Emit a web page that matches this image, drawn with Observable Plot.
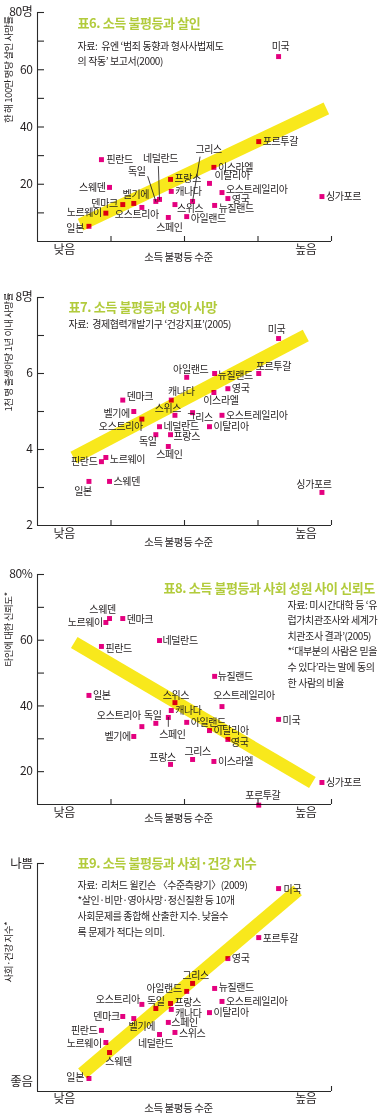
<!DOCTYPE html>
<html>
<head>
<meta charset="utf-8">
<script src="https://cdn.jsdelivr.net/npm/d3@7"></script>
<script src="https://cdn.jsdelivr.net/npm/@observablehq/plot@0.6"></script>
<style>
  body { margin: 0; background: #fff; }
  #chart { position: relative; width: 392px; height: 1118px; overflow: hidden; background: #fff; }
  #chart > div { position: absolute; left: 0; }
  .pnl text { letter-spacing: -0.4px; }
</style>
</head>
<body>
<div id="chart"></div>
<script>
// ---------- DATA ----------
const countries = ["일본","노르웨이","핀란드","스웨덴","덴마크","벨기에","오스트리아","독일","네덜란드","스페인","프랑스","캐나다","스위스","아일랜드","그리스","이탈리아","이스라엘","뉴질랜드","오스트레일리아","영국","포르투갈","미국","싱가포르"];
// relative income-inequality level (0 = 낮음 … 4 = 높음)
const inequality = [0.70,0.93,0.87,0.98,1.16,1.31,1.42,1.61,1.66,1.78,1.81,1.82,1.87,2.03,2.11,2.34,2.40,2.41,2.51,2.59,3.01,3.28,3.87];
// 표6: homicides per million per year
const homicideRate = [5.3,9.9,28.6,18.9,12.9,13.3,11.9,14.0,14.7,8.4,21.7,17.5,12.9,8.7,14.0,20.3,25.9,12.6,17.1,15.0,34.9,64.6,15.7];
// 표7: infant deaths within 1 year per 1,000 births
const infantMortality = [3.16,3.79,3.68,3.16,5.3,5.0,4.8,4.39,4.6,4.08,4.39,5.3,4.9,5.9,4.97,4.6,5.5,6.0,4.9,5.6,6.0,6.92,2.87];
// 표8: trust in others (%)
const trust = [43.2,65.4,58.1,66.6,66.6,30.7,33.7,34.7,59.9,36.5,22.2,38.6,41.0,35.0,23.7,32.5,23.1,49.0,39.8,29.8,9.8,35.9,16.7];
// 표9: health & social problems index (relative, 0 = 좋음, 100 = 나쁨)
const socialIndex = [5.7,21.5,26.8,17.1,32.9,32.0,38.2,36.4,25.0,30.3,38.6,36.0,25.9,43.9,47.4,34.6,null,45.2,39.5,58.3,67.5,89.0,null];

// trend bands (endpoints)
const trend6X = [0.585, 3.93], trend6Y = [5.9, 46.5];
const trend7X = [0.49, 3.65],  trend7Y = [3.79, 7.0];
const trend8X = [0.50, 3.74],  trend8Y = [59.3, 16.7];
const trend9X = [0.61, 3.54],  trend9Y = [7.9, 88.2];

// axis ticks
const xTickValues = [1, 2, 3, 4];
const y6Ticks = [10,20,30,40,50,60,70,80], y6TickLabels = [20,40,60,80];
const y7Ticks = [3,4,5,6,7,8],            y7TickLabels = [2,4,6,8];
const y8Ticks = [20,30,40,50,60,70,80],   y8TickLabels = [20,40,60,80];
const y9Ticks = [100], y9TickValues = [4, 100], y9TickNames = ["좋음", "나쁨"];

// texts
const xLow = "낮음", xHigh = "높음", xTitle = "소득 불평등 수준";
const title6 = "표6. 소득 불평등과 살인";
const source6 = "자료:  유엔 ‘범죄 동향과 형사사법제도\n의 작동’ 보고서(2000)";
const ylabel6 = "한 해 100만 명당 살인 사망률";
const title7 = "표7. 소득 불평등과 영아 사망";
const source7 = "자료:  경제협력개발기구 ‘건강지표’(2005)";
const ylabel7 = "1천 명 출생아당 1년 이내 사망률";
const title8 = "표8. 소득 불평등과 사회 성원 사이 신뢰도";
const source8 = "자료: 미시간대학 등 ‘유\n럽가치관조사와 세계가\n치관조사 결과’(2005)\n*‘대부분의 사람은 믿을\n수 있다’라는 말에 동의\n한 사람의 비율";
const ylabel8 = "타인에 대한 신뢰도*";
const title9 = "표9. 소득 불평등과 사회·건강 지수";
const source9 = "자료:  리처드 윌킨슨 〈수준측량기〉(2009)\n*살인·비만·영아사망·정신질환 등 10개\n사회문제를 종합해 산출한 지수. 낮을수\n록 문제가 적다는 의미.";
const ylabel9 = "사회·건강 지수*";

// ---------- STYLE (label placement: [textAnchor, dx, dy]) ----------
const place6 = {"미국":["middle",2,-10],"포르투갈":["start",4,0],"핀란드":["start",5,0],"네덜란드":["middle",1,-41],"독일":["middle",-19,-30],"그리스":["middle",16,-52],"프랑스":["start",4,-1],"캐나다":["start",4,0],"이스라엘":["start",4,0],"이탈리아":["start",5,-8],"오스트레일리아":["start",4,-3],"영국":["start",4,1],"뉴질랜드":["start",4,3],"싱가포르":["start",4,0],"스웨덴":["end",-4,0],"벨기에":["middle",2,-9],"덴마크":["end",-5,-1],"오스트리아":["middle",-5,7],"노르웨이":["end",-4,0],"일본":["end",-5,2],"스위스":["start",2,4],"스페인":["middle",1,10],"아일랜드":["start",4,2]};
const leaders6 = {"독일":[-18,26],"네덜란드":[-2,33],"그리스":[9.5,45]};
const place7 = {"미국":["middle",-2,-9],"포르투갈":["start",-3,-7],"뉴질랜드":["start",3,2],"아일랜드":["middle",4,-8],"영국":["start",4,0],"이스라엘":["middle",7,8],"캐나다":["middle",10,-8],"덴마크":["start",4,-3],"벨기에":["end",-4,2],"오스트리아":["middle",-21,8],"스위스":["middle",-7,-7],"그리스":["middle",7,5],"오스트레일리아":["start",4,0],"네덜란드":["start",4,0],"이탈리아":["start",4,0],"독일":["middle",-8,7],"프랑스":["start",3,2],"스페인":["middle",1,8],"핀란드":["end",-4,0],"노르웨이":["start",4,2],"일본":["middle",-6,10],"스웨덴":["start",4,0],"싱가포르":["middle",-8,-8]};
const place8 = {"스웨덴":["middle",-7,-9],"노르웨이":["end",-3,0],"덴마크":["start",4,1],"네덜란드":["start",3,0],"핀란드":["start",4,2],"뉴질랜드":["start",3,0],"일본":["start",4,0],"스위스":["middle",1,-7],"오스트레일리아":["middle",22,-11],"캐나다":["start",4,0],"독일":["middle",-3,-8],"오스트리아":["end",-1,-11],"스페인":["middle",4,17],"아일랜드":["start",4,0],"미국":["start",4,1],"이탈리아":["start",4,0],"벨기에":["end",-3,0],"영국":["start",3,3],"그리스":["middle",5,-8],"이스라엘":["start",4,0],"프랑스":["middle",-8,-7],"싱가포르":["start",4,0],"포르투갈":["middle",4,-9]};
const leaders8 = {"스페인":[180,9]};
const place9 = {"미국":["start",5,1],"포르투갈":["start",4,1],"영국":["start",4,0],"그리스":["middle",3,-8],"뉴질랜드":["start",4,-1],"아일랜드":["end",-5,-3],"오스트레일리아":["start",4,0],"프랑스":["start",4,-1],"독일":["middle",0,-7],"오스트리아":["end",-2,-5],"캐나다":["start",4,4],"이탈리아":["start",4,0],"덴마크":["end",-3,0],"벨기에":["middle",8,8],"스페인":["start",3,0],"핀란드":["end",-4,0],"스위스":["start",4,1],"네덜란드":["middle",-4,9],"노르웨이":["end",-4,1],"스웨덴":["middle",9,9],"일본":["end",-5,-1]};

const W = 392, ML = 37, MR = 61;
const FONT = "'Noto Sans CJK KR', 'Noto Sans', sans-serif";
const INK = "#231f20", AXIS = "#2a2a2a", YELLOW = "#f8e81c", PINK = "#e4007f", GREEN = "#b2cb3c";

function panel(o) {
  const data = countries.map((c, i) => ({country: c, x: inequality[i], y: o.values[i]})).filter(d => d.y != null);
  const trend = o.trendX.map((x, i) => ({x, y: o.trendY[i]}));
  const innerW = W - ML - MR, innerH = o.height - o.marginTop - o.marginBottom;
  const one = [0];
  const marks = [
    Plot.line(trend, {x: "x", y: "y", stroke: YELLOW, strokeWidth: 13, strokeLinecap: "butt"}),
    Plot.ruleX([0], {stroke: AXIS, strokeWidth: 1.1}),
    Plot.ruleY([o.yDomain[0]], {stroke: AXIS, strokeWidth: 1.1}),
    Plot.tickY(o.yTicks, {y: d => d, insetRight: innerW - 7, stroke: AXIS, strokeWidth: 1.1}),
    Plot.tickX(o.xTicks, {x: d => d, insetTop: innerH - 5, stroke: AXIS, strokeWidth: 1.1}),
    Plot.axisY(o.yTickLabels, {tickSize: 0, tickPadding: 5, label: null, tickFormat: o.yTickFormat, fontSize: o.yFontSize || 12, fill: INK}),
    Plot.dot(data, {x: "x", y: "y", symbol: "square", r: 2.8, fill: PINK, mixBlendMode: "multiply"})
  ];
  for (const [c, [rot, len]] of Object.entries(o.leaders || {})) {
    marks.push(Plot.vector(data.filter(d => d.country === c), {x: "x", y: "y", rotate: rot, length: len, anchor: "start", stroke: INK, strokeWidth: 0.8,
      shape: {draw(ctx, l) { ctx.moveTo(0, 0); ctx.lineTo(0, -l); }}}));
  }
  for (const [c, [ta, dx, dy]] of Object.entries(o.place)) {
    marks.push(Plot.text(data.filter(d => d.country === c), {x: "x", y: "y", text: "country", textAnchor: ta, dx, dy, fontSize: 10, fill: INK}));
  }
  marks.push(
    Plot.text(one, {frameAnchor: "bottom-left", text: () => xLow, dx: 16, dy: o.lowDy, fontSize: 12, fill: INK}),
    Plot.text(one, {frameAnchor: "bottom-right", text: () => xHigh, dx: -15, dy: o.lowDy, fontSize: 12, fill: INK}),
    Plot.text(one, {frameAnchor: "bottom", text: () => xTitle, dx: -6, dy: o.titleXDy, fontSize: 10.5, fill: INK}),
    Plot.text(one, {frameAnchor: "left", text: () => o.ylabel, rotate: -90, dx: -29, dy: o.ylabelDy, fontSize: 9.5, fill: INK}),
    Plot.text(one, {frameAnchor: "top-left", text: () => o.title, textAnchor: "start", dx: o.titleDx, dy: o.titleDy, fontSize: 13, fontWeight: "bold", fill: GREEN}),
    Plot.text(one, {frameAnchor: "top-left", text: () => o.source, textAnchor: "start", lineAnchor: "top", lineHeight: o.srcLH || 1.5, dx: o.srcDx, dy: o.srcDy, fontSize: 10, fill: INK})
  );
  const svg = Plot.plot({
    width: W, height: o.height, marginLeft: ML, marginRight: MR, marginTop: o.marginTop, marginBottom: o.marginBottom,
    x: {domain: [0, 4], axis: null},
    y: {domain: o.yDomain},
    className: "pnl",
    style: {fontFamily: FONT, background: "transparent", overflow: "visible"},
    marks
  });
  const wrap = document.createElement("div");
  wrap.style.top = o.top + "px";
  wrap.appendChild(svg);
  document.getElementById("chart").appendChild(wrap);
}

panel({top: 0, height: 275, marginTop: 12, marginBottom: 34, values: homicideRate, yDomain: [0, 80],
  yTicks: y6Ticks, yTickLabels: y6TickLabels, yTickFormat: d => d === 80 ? "80명" : d, xTicks: xTickValues,
  trendX: trend6X, trendY: trend6Y, place: place6, leaders: leaders6,
  lowDy: 12, titleXDy: 19, ylabel: ylabel6, ylabelDy: -4,
  title: title6, titleDx: 40, titleDy: 6, source: source6, srcDx: 40, srcDy: 27, srcLH: 1.5});

panel({top: 275, height: 280, marginTop: 22, marginBottom: 30, values: infantMortality, yDomain: [2, 8],
  yTicks: y7Ticks, yTickLabels: y7TickLabels, yTickFormat: d => d === 8 ? "8명" : d, xTicks: xTickValues,
  trendX: trend7X, trendY: trend7Y, place: place7,
  lowDy: 12, titleXDy: 20, ylabel: ylabel7, ylabelDy: 0,
  title: title7, titleDx: 31, titleDy: 5, source: source7, srcDx: 31, srcDy: 20});

panel({top: 555, height: 280, marginTop: 19, marginBottom: 31, values: trust, yDomain: [10, 80],
  yTicks: y8Ticks, yTickLabels: y8TickLabels, yTickFormat: d => d === 80 ? "80%" : d, xTicks: xTickValues,
  trendX: trend8X, trendY: trend8Y, place: place8, leaders: leaders8,
  lowDy: 12, titleXDy: 17, ylabel: ylabel8, ylabelDy: -23,
  title: title8, titleDx: 126, titleDy: 9, source: source8, srcDx: 250, srcDy: 23, srcLH: 1.56});

panel({top: 835, height: 283, marginTop: 28, marginBottom: 27, values: socialIndex, yDomain: [0, 100],
  yTicks: y9Ticks, yTickLabels: y9TickValues, yTickFormat: d => y9TickNames[y9TickValues.indexOf(d)], yFontSize: 12.5, xTicks: [4],
  trendX: trend9X, trendY: trend9Y, place: place9,
  lowDy: 11, titleXDy: 20, ylabel: ylabel9, ylabelDy: 5,
  title: title9, titleDx: 40, titleDy: -5, source: source9, srcDx: 40, srcDy: 14, srcLH: 1.57});
</script>
</body>
</html>
